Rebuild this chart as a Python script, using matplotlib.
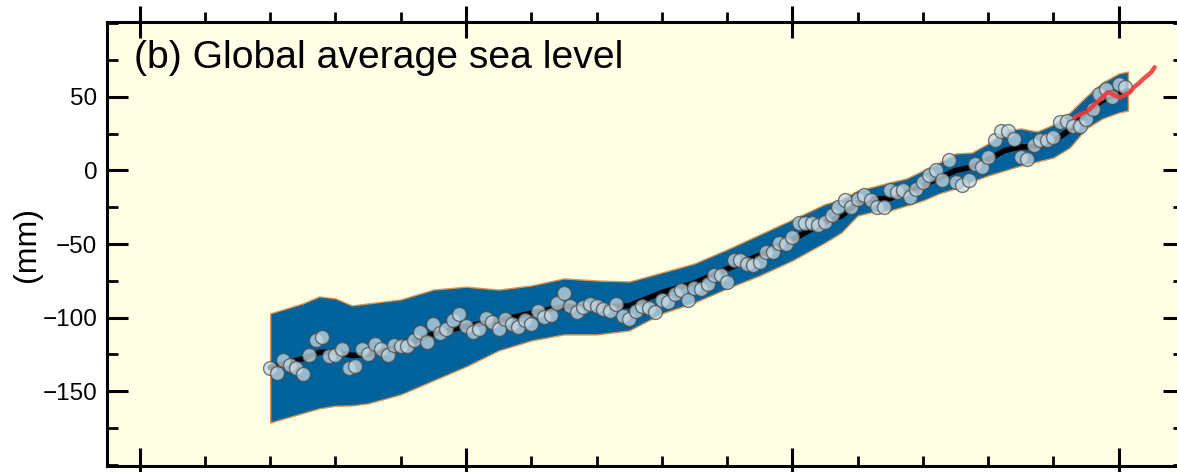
import matplotlib
matplotlib.use("Agg")
import matplotlib.pyplot as plt
from matplotlib.ticker import MultipleLocator
import numpy as np

plt.rcParams['font.family'] = ['Liberation Sans', 'DejaVu Sans']

# ---- data ----
years = list(range(1870, 2002))
sea_level = [
    -134.4, -137.8, -128.7, -132.6, -134.2, -138.2, -125.8, -115.6, -113.3, -126.5,   # 1870-1879
    -125.8, -121.3, -134.2, -133.3, -121.3, -124.7, -117.8, -121.3, -125.8, -119.0,   # 1880-1889
    -119.7, -119.7, -115.6, -110.0, -116.8, -104.3, -110.6, -107.7, -102.0, -97.5,    # 1890-1899
    -106.0, -110.0, -107.7, -100.2, -103.2, -107.7, -100.9, -104.3, -106.5, -101.6,   # 1900-1909
    -104.3, -95.7, -99.7, -98.2, -90.0, -83.4, -92.0, -96.5, -93.0, -91.0,            # 1910-1919
    -92.0, -94.0, -95.5, -90.8, -99.0, -101.0, -95.5, -92.4, -93.4, -96.4,            # 1920-1929
    -88.4, -89.5, -83.8, -81.6, -87.9, -79.8, -80.5, -77.5, -71.4, -71.4,             # 1930-1939
    -76.0, -60.8, -61.2, -63.4, -64.6, -62.3, -55.6, -55.6, -49.4, -49.8,             # 1940-1949
    -44.9, -35.9, -35.9, -35.9, -37.0, -35.0, -30.0, -25.0, -20.4, -25.0,             # 1950-1959
    -19.3, -17.0, -20.4, -25.0, -25.0, -13.6, -14.8, -13.6, -18.2, -12.5,             # 1960-1969
    -8.0, -3.4, 0.0, -6.8, 6.8, -8.0, -10.2, -6.8, 4.5, 2.3,                          # 1970-1979
    9.0, 20.4, 27.2, 27.2, 21.5, 9.0, 8.0, 17.0, 20.4, 20.4,                          # 1980-1989
    22.7, 32.8, 34.0, 30.6, 30.6, 35.2, 42.0, 52.2, 55.5, 49.8,                       # 1990-1999
    59.0, 56.6,                                                                       # 2000-2001
]

band_years = [1870, 1875, 1877.5, 1880, 1882.5, 1885, 1890, 1895, 1900, 1905, 1910, 1915,
              1920, 1925, 1930, 1935, 1940, 1945, 1950, 1955, 1957.5, 1960, 1962.5, 1965,
              1967.5, 1970, 1972.5, 1975, 1977.5, 1980, 1982.5, 1985, 1987.5, 1990, 1992.5,
              1995, 1997.5, 2000, 2001.4]
band_upper = [-97.2, -90.4, -85.7, -87.0, -91.8, -90.4, -87.7, -81.0, -79.0, -81.0, -78.2, -73.4,
              -74.8, -75.5, -69.4, -63.2, -53.7, -43.5, -33.3, -22.8, -19.7, -13.6, -10.9, -8.0,
              -5.4, 0.0, 5.4, 11.6, 12.2, 18.4, 27.2, 28.6, 26.5, 31.3, 39.4,
              50.3, 59.8, 66.0, 67.3]
band_lower = [-171.4, -165.0, -161.8, -160.0, -159.8, -158.4, -152.3, -142.8, -133.3, -122.4, -115.6, -111.5,
              -111.5, -108.8, -97.2, -89.8, -80.2, -71.4, -61.2, -49.0, -42.2, -30.6, -27.9, -27.2,
              -23.8, -20.4, -15.6, -12.2, -7.5, -3.4, 0.0, 3.4, 6.1, 8.8, 15.6,
              28.6, 35.4, 39.4, 40.8]
smooth = [-134.0, -128.0, -123.7, -123.5, -125.8, -125.0, -120.0, -111.0, -106.0, -102.0, -97.0, -92.5,
          -93.0, -92.0, -83.0, -76.5, -67.0, -57.5, -47.0, -35.0, -31.0, -22.0, -19.4, -19.0,
          -14.6, -10.0, -5.1, 0.0, 2.3, 7.5, 13.6, 16.0, 16.3, 20.0, 27.5,
          39.5, 47.6, 52.7, 54.0]

sat_years = [1993.2, 1994.0, 1994.9, 1995.6, 1996.4, 1997.0, 1997.6, 1998.3, 1999.0, 1999.6,
             2000.3, 2001.0, 2001.7, 2002.3, 2003.0, 2003.7, 2004.4, 2005.0, 2005.5]
sat_level = [36.0, 38.0, 39.7, 42.0, 45.5, 47.6, 50.5, 53.2, 52.2, 50.5,
             49.8, 51.5, 53.2, 56.5, 59.0, 62.0, 64.6, 66.9, 70.2]

title = "(b) Global average sea level"
ylabel = "(mm)"
yticks = [-150, -100, -50, 0, 50]
xticks = [1850, 1900, 1950, 2000]

# ---- figure ----
W, H = 1177, 472
fig = plt.figure(figsize=(W / 100, H / 100), dpi=100, facecolor='white')
ax = fig.add_axes([107 / W, 1 - 466 / H, (1184 - 107) / W, (466 - 22) / H])
ax.set_facecolor('#ffffe6')

ax.fill_between(band_years, band_lower, band_upper, facecolor='#00629b',
                edgecolor='#e0954a', linewidth=1.0, zorder=2)
ax.plot(band_years, smooth, color='black', linewidth=4.0, zorder=3,
        solid_capstyle='round', solid_joinstyle='round')
ax.plot(years, sea_level, linestyle='none', marker='o', markersize=10,
        markerfacecolor=(0.78, 0.85, 0.89, 0.75), markeredgecolor=(0.30, 0.30, 0.30, 0.75),
        markeredgewidth=1.0, zorder=4)
ax.plot(sat_years, sat_level, color='#f03a3a', linewidth=3.2, alpha=0.9, zorder=5,
        solid_capstyle='round')

ax.set_xlim(1845, 2010)
ax.set_ylim(-201, 101)

ax.set_yticks(yticks)
ax.yaxis.set_minor_locator(MultipleLocator(25))
ax.set_xticks(xticks)
ax.xaxis.set_minor_locator(MultipleLocator(10))
ax.set_xticklabels([])

for s in ax.spines.values():
    s.set_linewidth(2.2)

ax.tick_params(axis='y', which='major', direction='in', length=15, width=2.2,
               labelsize=17.5, pad=7, left=True, right=True)
ax.tick_params(axis='y', which='minor', direction='in', length=8, width=2.0,
               left=True, right=True)
ax.tick_params(axis='x', which='major', direction='inout', length=26, width=2.2,
               bottom=True, top=False)
ax.tick_params(axis='x', which='minor', direction='in', length=7, width=2.0,
               bottom=True, top=False)

# top axis ticks (major both sides, minor outward)
axt = ax.twiny()
axt.set_xlim(ax.get_xlim())
axt.set_xticks(xticks)
axt.xaxis.set_minor_locator(MultipleLocator(10))
axt.set_xticklabels([])
axt.tick_params(axis='x', which='major', direction='inout', length=23, width=2.2)
axt.tick_params(axis='x', which='minor', direction='out', length=7, width=2.0)
for s in axt.spines.values():
    s.set_visible(False)

ax.text(1849.1, 69.4, title, fontsize=28.2, ha='left', va='baseline', zorder=6)
fig.text(27 / W, 1 - 245 / H, ylabel, rotation=90, fontsize=23,
         ha='center', va='center')

fig.savefig('out.png', dpi=100, facecolor='white')
